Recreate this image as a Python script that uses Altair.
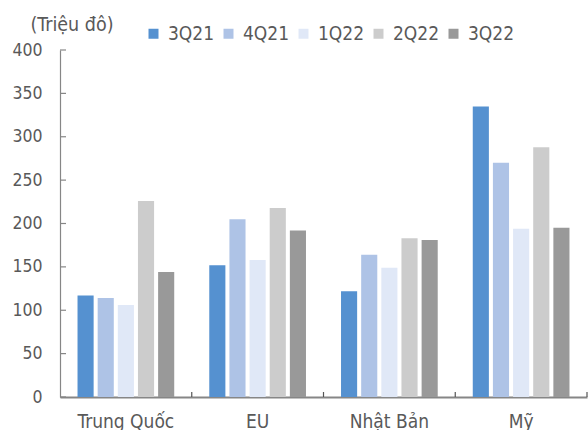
import altair as alt
import pandas as pd

regions = ["Trung Quốc", "EU", "Nhật Bản", "Mỹ"]
quarters = ["3Q21", "4Q21", "1Q22", "2Q22", "3Q22"]
v_3q21 = [117, 152, 122, 335]
v_4q21 = [114, 205, 164, 270]
v_1q22 = [106, 158, 149, 194]
v_2q22 = [226, 218, 183, 288]
v_3q22 = [144, 192, 181, 195]
colors = ["#5591D0", "#AEC3E6", "#E0E8F7", "#CCCCCC", "#999999"]
y_ticks = [0, 50, 100, 150, 200, 250, 300, 350, 400]
boundaries = [1, 2, 3, 4]

series = [v_3q21, v_4q21, v_1q22, v_2q22, v_3q22]
rows = []
for q, vals in zip(quarters, series):
    for r, v in zip(regions, vals):
        rows.append({"region": r, "quarter": q, "value": v})
df = pd.DataFrame(rows)

FONT = "DejaVu Sans Condensed"
TXT = "#595959"
AX = "#868686"

bars = alt.Chart(df).mark_bar().encode(
    x=alt.X("region:N", sort=regions, title=None,
            scale=alt.Scale(paddingInner=0.266, paddingOuter=0.133),
            axis=alt.Axis(labelAngle=0, ticks=False, labelPadding=15,
                          labelFontSize=19, labelFont=FONT, labelColor=TXT,
                          domainColor=AX, domainWidth=1.8)),
    xOffset=alt.XOffset("quarter:N", sort=quarters,
                        scale=alt.Scale(paddingInner=0.2, paddingOuter=0)),
    y=alt.Y("value:Q", scale=alt.Scale(domain=[0, 400], nice=False),
            axis=alt.Axis(values=y_ticks, ticks=False, labelPadding=18,
                          labelFontSize=17.5, labelFont=FONT, labelColor=TXT,
                          domainColor=AX, domainWidth=1.2,
                          title="(Triệu đô)", titleAngle=0, titleAlign="left",
                          titleBaseline="alphabetic", titleX=-30, titleY=-20,
                          titleFont=FONT, titleFontSize=19.5, titleFontWeight="normal",
                          titleColor=TXT)),
    color=alt.Color("quarter:N", sort=quarters,
                    scale=alt.Scale(domain=quarters, range=colors),
                    legend=alt.Legend(orient="none", legendX=84, legendY=-26,
                                      direction="horizontal", columns=5, title=None,
                                      symbolType="square", symbolSize=100,
                                      symbolStrokeWidth=0, labelFontSize=19,
                                      labelFont=FONT, labelColor=TXT,
                                      labelOffset=5, columnPadding=4, padding=0)),
)

yt = alt.Chart(pd.DataFrame({"v": y_ticks})).mark_rule(color=AX, strokeWidth=1.2).encode(
    y=alt.Y("v:Q"), x=alt.value(0), x2=alt.value(6)
)

xt = alt.Chart(pd.DataFrame({"b": boundaries})).mark_rule(color="#555555", strokeWidth=1.2).encode(
    x=alt.X("b:Q", scale=alt.Scale(domain=[0, 4], nice=False), axis=None),
    y=alt.value(342), y2=alt.value(347)
)

chart = alt.layer(bars, yt, xt).resolve_scale(x="independent").properties(
    width=527, height=347,
    autosize=alt.AutoSizeParams(type="none"),
    padding={"left": 60, "top": 50, "right": 1, "bottom": 33},
).configure_view(stroke=None).configure_axis(grid=False)

chart.save("out.html", embed_options={"renderer": "svg", "actions": False})
